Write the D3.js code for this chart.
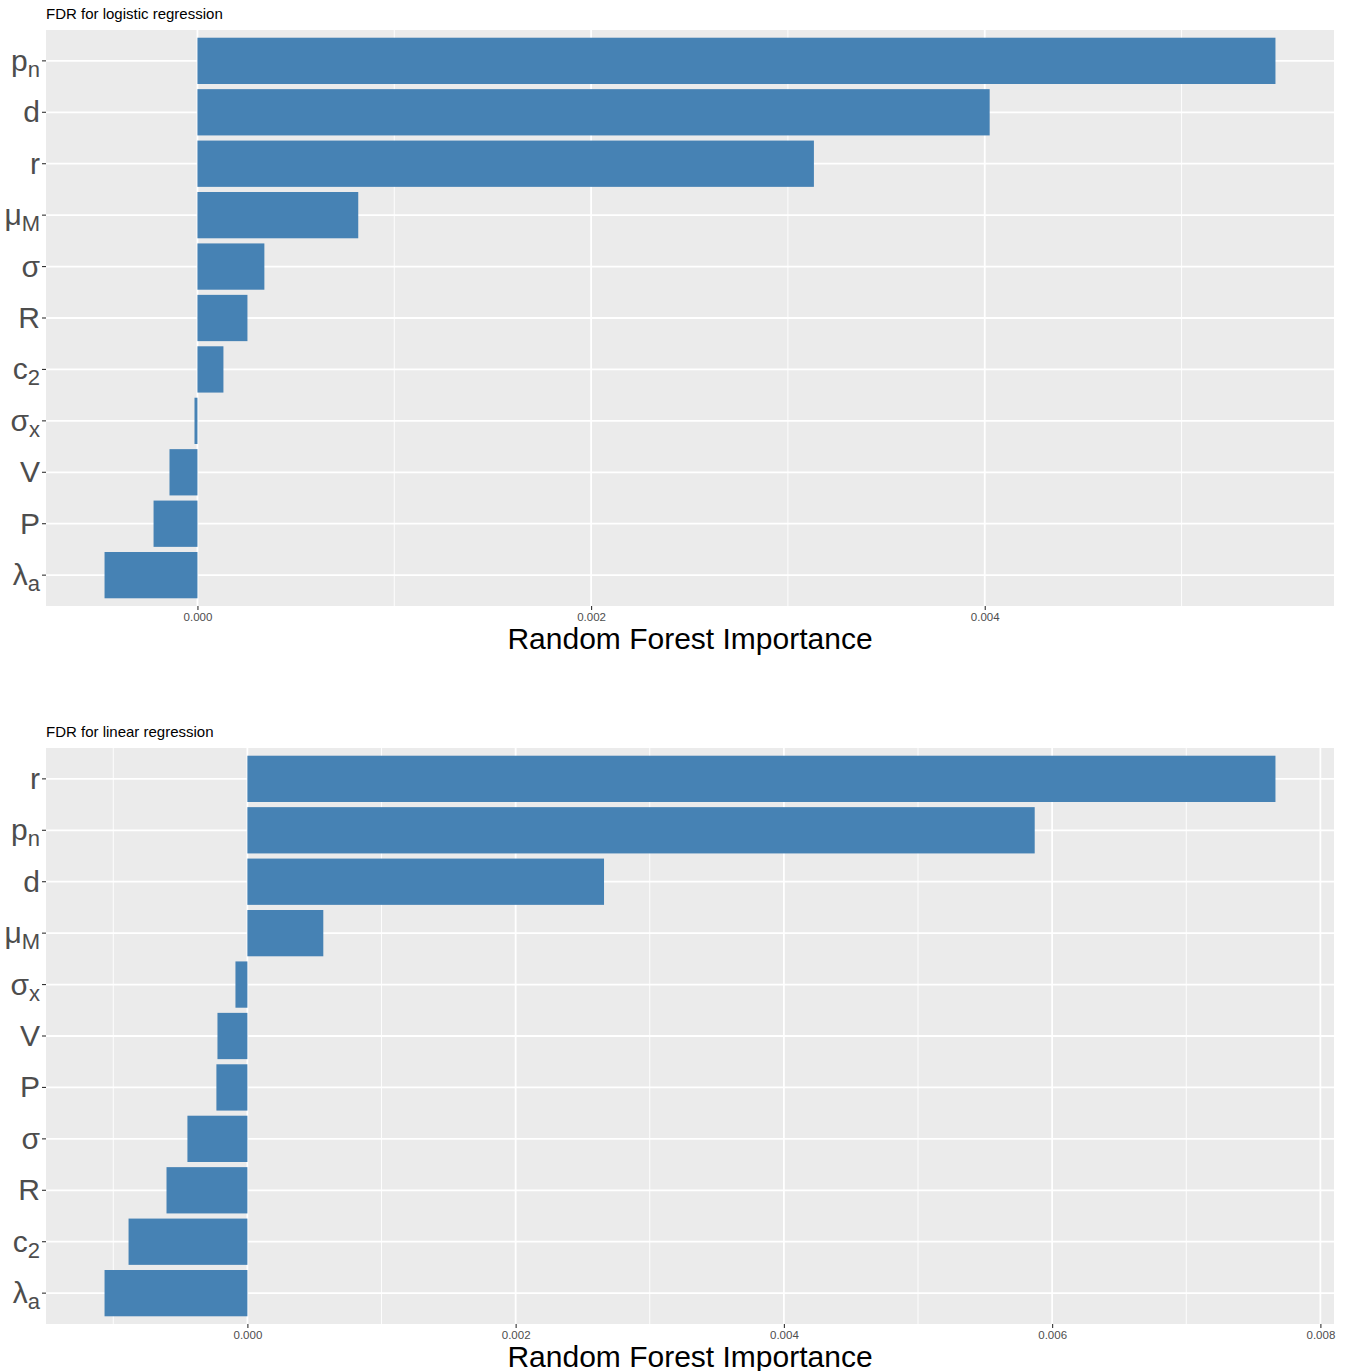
<!DOCTYPE html>
<html>
<head>
<meta charset="utf-8">
<script src="https://cdn.jsdelivr.net/npm/d3@7"></script>
<style>
  html, body { margin: 0; padding: 0; background: #ffffff; }
  svg { display: block; font-family: "Liberation Sans", Arial, sans-serif; }
</style>
</head>
<body>
<div id="chart"></div>
<script>
// Random forest variable importance for FDR, two models.
// Category labels are [symbol, subscript] pairs, listed top to bottom.

const logisticTitle = "FDR for logistic regression";
const logisticCategories = [["p","n"],["d",""],["r",""],["\u03bc","M"],["\u03c3",""],["R",""],["c","2"],["\u03c3","x"],["V",""],["P",""],["\u03bb","a"]];
const logisticValues = [0.005477, 0.004025, 0.003132, 0.000817, 0.000340, 0.000254, 0.000132, -0.000015, -0.000142, -0.000223, -0.000472];
const logisticTicks = [0, 0.002, 0.004];
const logisticMinor = [0.001, 0.003, 0.005];

const linearTitle = "FDR for linear regression";
const linearCategories = [["r",""],["p","n"],["d",""],["\u03bc","M"],["\u03c3","x"],["V",""],["P",""],["\u03c3",""],["R",""],["c","2"],["\u03bb","a"]];
const linearValues = [0.007665, 0.005870, 0.002659, 0.000566, -0.000089, -0.000223, -0.000231, -0.000447, -0.000603, -0.000886, -0.001065];
const linearTicks = [0, 0.002, 0.004, 0.006, 0.008];
const linearMinor = [-0.001, 0.001, 0.003, 0.005, 0.007];

const axisTitle = "Random Forest Importance";

const W = 1346, H = 1371;
const svg = d3.select("#chart").append("svg")
  .attr("width", W).attr("height", H);

function drawPanel(opts) {
  const { title, categories, values, ticks, minor, top } = opts;
  const left = 46, right = 1334, panelH = 576;
  const bottom = top + panelH;

  // x domain expanded by 5% on each side of the data range
  const lo = Math.min(0, d3.min(values)), hi = Math.max(0, d3.max(values));
  const pad = (hi - lo) * 0.05;
  const x = d3.scaleLinear().domain([lo - pad, hi + pad]).range([left, right]);

  const keys = categories.map((c, i) => i);
  const y = d3.scaleBand().domain(keys).range([top, bottom])
    .paddingInner(0.1).paddingOuter(0.15);

  const g = svg.append("g");

  // title
  g.append("text")
    .attr("x", left).attr("y", top - 11)
    .attr("font-size", 15).attr("fill", "#000")
    .text(title);

  // panel background
  g.append("rect")
    .attr("x", left).attr("y", top)
    .attr("width", right - left).attr("height", panelH)
    .attr("fill", "#ebebeb");

  // minor grid
  g.selectAll(".minor").data(minor).join("line")
    .attr("x1", d => x(d)).attr("x2", d => x(d))
    .attr("y1", top).attr("y2", bottom)
    .attr("stroke", "#ffffff").attr("stroke-width", 0.9);

  // major grid
  g.selectAll(".majorx").data(ticks).join("line")
    .attr("x1", d => x(d)).attr("x2", d => x(d))
    .attr("y1", top).attr("y2", bottom)
    .attr("stroke", "#ffffff").attr("stroke-width", 1.8);

  g.selectAll(".majory").data(keys).join("line")
    .attr("x1", left).attr("x2", right)
    .attr("y1", d => y(d) + y.bandwidth() / 2)
    .attr("y2", d => y(d) + y.bandwidth() / 2)
    .attr("stroke", "#ffffff").attr("stroke-width", 1.8);

  // bars
  g.selectAll(".bar").data(values).join("rect")
    .attr("x", d => x(Math.min(0, d)))
    .attr("width", d => Math.abs(x(d) - x(0)))
    .attr("y", (d, i) => y(i))
    .attr("height", y.bandwidth())
    .attr("fill", "#4682b4");

  // x axis
  const xAxis = d3.axisBottom(x).tickValues(ticks)
    .tickFormat(d3.format(".3f")).tickSize(4).tickPadding(3);
  const ax = g.append("g").attr("transform", `translate(0,${bottom})`).call(xAxis);
  ax.select(".domain").remove();
  ax.selectAll(".tick line").attr("stroke", "#333333").attr("stroke-width", 1.1);
  ax.selectAll(".tick text").attr("fill", "#4d4d4d").attr("font-size", 11.5)
    .attr("font-family", "Liberation Sans, Arial, sans-serif");

  // y axis with symbol + subscript labels
  const yAxis = d3.axisLeft(y).tickSize(4).tickPadding(4).tickFormat("");
  const ay = g.append("g").attr("transform", `translate(${left},0)`).call(yAxis);
  ay.select(".domain").remove();
  ay.selectAll(".tick line").attr("stroke", "#333333").attr("stroke-width", 1.1);
  ay.selectAll(".tick text").remove();

  const labels = g.selectAll(".ylab").data(categories).join("text")
    .attr("x", left - 6)
    .attr("y", (d, i) => y(i) + y.bandwidth() / 2 + 10)
    .attr("text-anchor", "end")
    .attr("fill", "#4d4d4d")
    .attr("font-size", 30);
  labels.append("tspan").text(d => d[0]);
  labels.filter(d => d[1] !== "").append("tspan")
    .attr("font-size", 22).attr("dy", 6)
    .text(d => d[1]);

  // axis title
  g.append("text")
    .attr("x", (left + right) / 2).attr("y", bottom + 43)
    .attr("text-anchor", "middle")
    .attr("font-size", 30).attr("fill", "#000")
    .text(axisTitle);
}

drawPanel({ title: logisticTitle, categories: logisticCategories, values: logisticValues,
  ticks: logisticTicks, minor: logisticMinor, top: 30 });
drawPanel({ title: linearTitle, categories: linearCategories, values: linearValues,
  ticks: linearTicks, minor: linearMinor, top: 748 });
</script>
</body>
</html>
